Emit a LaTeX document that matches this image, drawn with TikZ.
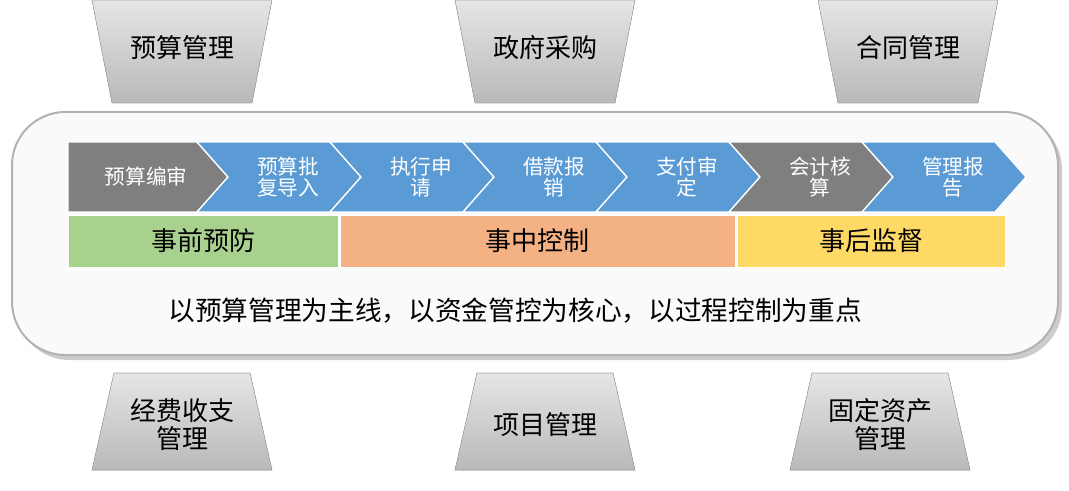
\documentclass[tikz,border=0pt]{standalone}
\usepackage{fontspec}
\setmainfont{Noto Sans CJK SC}
\begin{document}
\begin{tikzpicture}[x=0.75pt,y=-0.75pt,
  trap/.style={draw=gray!70,top color=gray!20,bottom color=gray!55},
  chev/.style={draw=white,line width=1pt,fill=#1},
  bar/.style={draw=white,fill=#1},
  lbl/.style={font=\fontsize{19.5}{21}\selectfont,text=black,align=center},
  clbl/.style={font=\fontsize{15.5}{16}\selectfont,text=white,align=center}]
\useasboundingbox (0,0) rectangle (1069,491);
\definecolor{cblue}{HTML}{5B9BD5}\definecolor{cgray}{HTML}{7F7F7F}
\definecolor{cgreen}{HTML}{A9D18E}\definecolor{corange}{HTML}{F4B183}\definecolor{cyellow}{HTML}{FFD966}
% top trapezoids
\foreach \c/\t/\n in {182/预算管理/ta,545/政府采购/tb,908/合同管理/tc}{
  \fill[trap] (\c-90,0) -- (\c+90,0) -- (\c+70,103) -- (\c-70,103) -- cycle;
  \node[lbl] (\n) at (\c,48) {\t};}
% bottom trapezoids
\foreach \c/\t/\n in {182/{经费收支\\管理}/ba,545/项目管理/bb,880/{固定资产\\管理}/bc}{
  \fill[trap] (\c-68,373) -- (\c+68,373) -- (\c+90,470) -- (\c-90,470) -- cycle;
  \node[lbl] (\n) at (\c,425) {\t};}
% main frame
\fill[gray!40,rounded corners=40] (16,116) rectangle (1062,360);
\draw[gray!60,line width=1.5pt,fill=gray!4,rounded corners=40] (12,112) rectangle (1058,355);
% chevrons
\fill[chev=cgray] (68,142) -- (197,142) -- (228,177) -- (197,212) -- (68,212) -- cycle;
\node[clbl] (c1) at (146,177) {预算编审};
\foreach \k/\t/\col in {0/{预算批\\复导入}/cblue,1/{执行申\\请}/cblue,2/{借款报\\销}/cblue,3/{支付审\\定}/cblue,4/{会计核\\算}/cgray,5/{管理报\\告}/cblue}{
  \pgfmathsetmacro{\L}{197+133*\k}
  \fill[chev=\col] (\L,142) -- (\L+133,142) -- (\L+164,177) -- (\L+133,212) -- (\L,212) -- (\L+31,177) -- cycle;
  \node[clbl] (c\k x) at (\L+91,177) {\t};}
% bars
\fill[bar=cgreen] (68,215) rectangle (338,267); \node[lbl] (p1) at (203,241) {事前预防};
\fill[bar=corange] (340,215) rectangle (735,267); \node[lbl] (p2) at (537,241) {事中控制};
\fill[bar=cyellow] (737,215) rectangle (1005,267); \node[lbl] (p3) at (871,241) {事后监督};
\node[lbl,font=\fontsize{20}{22}\selectfont] (main) at (515,311) {以预算管理为主线，以资金管控为核心，以过程控制为重点};
\end{tikzpicture}
\end{document}
